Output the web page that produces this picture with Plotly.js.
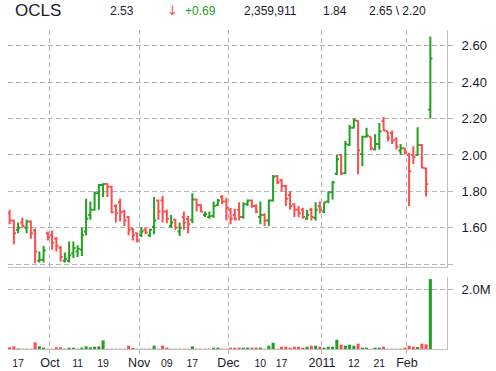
<!DOCTYPE html>
<html><head><meta charset="utf-8">
<script src="https://cdn.plot.ly/plotly-3.0.1.min.js"></script>
<style>html,body{margin:0;padding:0;background:#fff;}#chart{width:496px;height:371px;}</style>
</head><body><div id="chart"></div>
<script>
// ---- data (one bar per trading day, 17 Sep 2010 .. 8 Feb 2011) ----
const openP = [1.68,1.64,1.59,1.63,1.60,1.635,1.585,1.42,1.425,1.57,
  1.56,1.54,1.49,1.42,1.42,1.46,1.47,1.48,1.58,1.67,
  1.70,1.79,1.835,1.84,1.825,1.72,1.74,1.69,1.66,1.595,
  1.57,1.56,1.59,1.56,1.605,1.75,1.75,1.69,1.61,1.645,
  1.58,1.66,1.65,1.645,1.755,1.725,1.67,1.66,1.665,1.725,
  1.77,1.745,1.70,1.67,1.70,1.66,1.73,1.75,1.72,1.66,
  1.67,1.64,1.75,1.885,1.86,1.83,1.78,1.73,1.70,1.70,
  1.65,1.70,1.655,1.72,1.69,1.745,1.795,1.897,2.00,1.90,
  2.055,2.15,2.187,2.005,2.10,2.10,2.03,2.06,2.187,2.13,
  2.12,2.085,2.025,2.037,2.00,2.00,2.00,2.055,1.927,2.25];
const highP = [1.70,1.645,1.63,1.655,1.645,1.64,1.595,1.47,1.50,1.58,
  1.585,1.55,1.50,1.465,1.525,1.525,1.505,1.60,1.76,1.745,
  1.80,1.84,1.845,1.845,1.83,1.73,1.76,1.70,1.665,1.60,
  1.575,1.605,1.60,1.595,1.77,1.755,1.775,1.70,1.67,1.65,
  1.63,1.69,1.665,1.79,1.76,1.73,1.69,1.69,1.745,1.76,
  1.78,1.765,1.71,1.705,1.74,1.74,1.755,1.755,1.73,1.745,
  1.68,1.755,1.89,1.89,1.87,1.835,1.80,1.735,1.72,1.71,
  1.70,1.71,1.74,1.745,1.74,1.80,1.857,2.00,2.005,2.077,
  2.165,2.20,2.19,2.105,2.15,2.10,2.114,2.175,2.209,2.13,
  2.134,2.097,2.06,2.04,2.011,2.048,2.152,2.06,1.93,2.65];
const lowP = [1.62,1.51,1.57,1.60,1.57,1.54,1.405,1.41,1.41,1.53,
  1.48,1.47,1.415,1.41,1.41,1.435,1.44,1.445,1.56,1.645,
  1.695,1.70,1.77,1.77,1.68,1.63,1.635,1.61,1.56,1.53,
  1.52,1.55,1.565,1.55,1.565,1.645,1.63,1.625,1.60,1.59,
  1.555,1.59,1.57,1.625,1.69,1.685,1.66,1.65,1.655,1.72,
  1.73,1.64,1.62,1.64,1.64,1.65,1.72,1.71,1.68,1.62,
  1.61,1.61,1.745,1.84,1.80,1.72,1.70,1.66,1.66,1.65,
  1.645,1.64,1.64,1.68,1.68,1.735,1.755,1.89,1.89,1.895,
  2.05,2.145,1.894,1.94,2.095,2.026,2.026,2.03,2.13,2.075,
  2.06,2.03,2.00,2.005,1.72,1.95,1.995,1.927,1.772,2.20];
const closeP = [1.64,1.57,1.60,1.61,1.635,1.57,1.47,1.425,1.475,1.55,
  1.52,1.50,1.44,1.43,1.45,1.49,1.485,1.56,1.65,1.70,
  1.79,1.835,1.84,1.825,1.685,1.68,1.685,1.64,1.59,1.56,
  1.53,1.58,1.575,1.59,1.64,1.69,1.69,1.65,1.63,1.60,
  1.60,1.63,1.62,1.755,1.725,1.69,1.675,1.665,1.72,1.75,
  1.745,1.71,1.65,1.65,1.66,1.73,1.75,1.72,1.69,1.67,
  1.64,1.75,1.88,1.85,1.83,1.76,1.72,1.70,1.68,1.66,
  1.67,1.66,1.70,1.70,1.74,1.795,1.85,1.976,1.90,2.06,
  2.15,2.19,2.026,2.10,2.105,2.037,2.06,2.13,2.135,2.095,
  2.08,2.045,2.037,2.015,1.91,1.99,2.055,1.93,1.84,2.53];
const volume = [56e3,90e3,22e3,11e3,11e3,11e3,224e3,90e3,45e3,11e3,
  11e3,56e3,56e3,11e3,45e3,45e3,11e3,45e3,90e3,56e3,
  78e3,90e3,292e3,11e3,11e3,11e3,11e3,11e3,112e3,34e3,
  11e3,11e3,11e3,11e3,112e3,11e3,112e3,45e3,11e3,11e3,
  11e3,11e3,11e3,90e3,11e3,11e3,11e3,11e3,45e3,45e3,
  11e3,11e3,45e3,45e3,45e3,45e3,45e3,45e3,45e3,45e3,
  11e3,112e3,213e3,11e3,78e3,78e3,45e3,78e3,78e3,45e3,
  78e3,112e3,112e3,78e3,45e3,78e3,78e3,314e3,146e3,112e3,
  146e3,112e3,180e3,45e3,45e3,11e3,45e3,45e3,78e3,11e3,
  11e3,11e3,11e3,45e3,112e3,78e3,67e3,180e3,157e3,2359911];

// tick labels (positions are bar indices; month lines sit between bars)
const monthTickPos = [9.5, 30.5, 51.5, 73.5, 93.5];
const monthTickText = ['Oct', 'Nov', 'Dec', '2011', 'Feb'];
const dayTickPos = [2, 16, 22, 37, 43, 59, 64, 81, 87];
const dayTickText = ['17', '11', '19', '09', '17', '10', '17', '12', '21'];
const priceTickVals = [1.4, 1.6, 1.8, 2.0, 2.2, 2.4, 2.6];
const priceTickText = ['', '1.60', '1.80', '2.00', '2.20', '2.40', '2.60'];
const volTickVals = [2e6];
const volTickText = ['2.0M'];

const symbol = 'OCLS';
const lastPrice = '2.53';
const changeText = '+0.69';
const lastVolume = '2,359,911';
const prevClose = '1.84';
const highLowText = '2.65 \\ 2.20';

// ---- chart ----
const GREEN = '#22a022', RED = '#ff4c4c';
const GRID = '#b4b4b4', AXIS = '#c0c0c0', TXT = '#1a1a2a';
const idx = openP.map((_, i) => i);
const volColors = closeP.map((c, i) => (c >= openP[i] ? GREEN : RED));
const XR = [-0.38, 102.92];

// bottom labels: day numbers (small) and month names (larger) on one axis
const bottomTicks = dayTickPos.map((p, i) => ({p: p, t: dayTickText[i]}))
  .concat(monthTickPos.map((p, i) => ({p: p, t: '<span style="font-size:12.5px">' + monthTickText[i] + '</span>'})))
  .sort((a, b) => a.p - b.p);

const traces = [
  {type: 'ohlc', x: idx, open: openP, high: highP, low: lowP, close: closeP,
   xaxis: 'x', yaxis: 'y', tickwidth: 0.5, hoverinfo: 'skip',
   increasing: {line: {color: GREEN, width: 2}},
   decreasing: {line: {color: RED, width: 2}}},
  {type: 'bar', x: idx, y: volume, xaxis: 'x2', yaxis: 'y2', width: 0.72,
   marker: {color: volColors, line: {width: 0}}, hoverinfo: 'skip'}
];

const gridStyle = {showgrid: true, gridcolor: GRID, gridwidth: 1, griddash: '5px,3px', zeroline: false};

const ann = (x, text, size, color, fam) => ({xref: 'paper', yref: 'paper', x: x, y: 1.0596,
  xanchor: 'left', yanchor: 'middle', showarrow: false, text: text,
  font: {size: size, color: color, family: fam || 'Liberation Sans, Arial, sans-serif'}});

const layout = {
  width: 496, height: 371,
  margin: {l: 8, r: 49, t: 30, b: 22, pad: 0},
  paper_bgcolor: '#fff', plot_bgcolor: '#fff',
  showlegend: false,
  font: {family: 'Liberation Sans, Arial, sans-serif', color: TXT, size: 12},
  xaxis: Object.assign({domain: [0, 1], anchor: 'y', range: XR, tickmode: 'array',
    tickvals: monthTickPos, showticklabels: false, ticks: '',
    showline: true, linecolor: AXIS, linewidth: 1,
    rangeslider: {visible: false}, fixedrange: true}, gridStyle),
  yaxis: Object.assign({domain: [0.257, 1], anchor: 'x', side: 'right', range: [1.385, 2.686],
    tickmode: 'array', tickvals: priceTickVals, ticktext: priceTickText,
    ticks: 'outside', ticklen: 5, tickcolor: GRID, ticklabelstandoff: 6,
    tickfont: {size: 13, color: TXT},
    showline: true, linecolor: AXIS, linewidth: 1, fixedrange: true}, gridStyle),
  xaxis2: {domain: [0, 1], anchor: 'y2', range: XR, tickmode: 'array',
    tickvals: bottomTicks.map(d => d.p), ticktext: bottomTicks.map(d => d.t),
    ticks: 'outside', ticklen: 4, tickcolor: 'rgba(0,0,0,0)', tickfont: {size: 10.5, color: TXT},
    showgrid: false, zeroline: false,
    minor: {tickmode: 'array', tickvals: monthTickPos, ticks: 'outside', ticklen: 4,
      tickcolor: GRID, showgrid: true, gridcolor: GRID, gridwidth: 1, griddash: '5px,3px'},
    showline: true, linecolor: AXIS, linewidth: 1, fixedrange: true},
  yaxis2: Object.assign({domain: [0, 0.2257], anchor: 'x2', side: 'right', range: [0, 2.43e6],
    tickmode: 'array', tickvals: volTickVals, ticktext: volTickText,
    ticks: 'outside', ticklen: 5, tickcolor: GRID, ticklabelstandoff: 6,
    tickfont: {size: 13, color: TXT},
    showline: true, linecolor: AXIS, linewidth: 1, fixedrange: true}, gridStyle),
  annotations: [
    ann(0.0114, symbol, 17, TXT),
    ann(0.2278, lastPrice, 12, TXT),
    ann(0.3576, '\u2193', 13, RED, 'DejaVu Sans, sans-serif'),
    ann(0.3986, changeText, 12, GREEN),
    ann(0.533, lastVolume, 12, TXT),
    ann(0.713, prevClose, 12, TXT),
    ann(0.8178, highLowText, 12, TXT)
  ]
};

Plotly.newPlot('chart', traces, layout, {staticPlot: true, displayModeBar: false});
</script>
</body></html>
